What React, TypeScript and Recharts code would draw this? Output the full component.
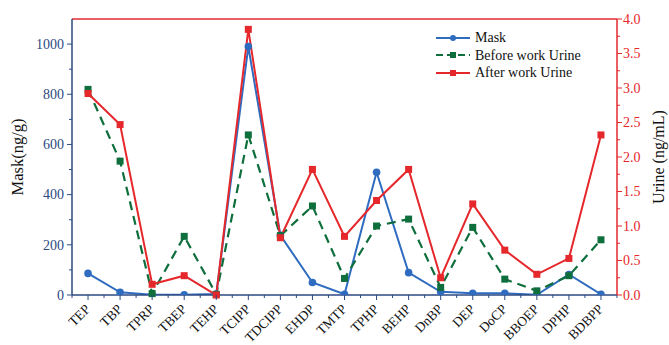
import { LineChart, Line, XAxis, YAxis, ReferenceLine } from "recharts";

const categories = ["TEP", "TBP", "TPRP", "TBEP", "TEHP", "TCIPP", "TDCIPP", "EHDP", "TMTP", "TPHP", "BEHP", "DnBP", "DEP", "DoCP", "BBOEP", "DPHP", "BDBPP"];
const mask = [86, 11, 1, 1, 4, 990, 238, 50, 3, 489, 89, 13, 7, 7, 1, 82, 3];
const beforeUrine = [2.98, 1.94, 0.02, 0.85, 0.01, 2.32, 0.86, 1.29, 0.24, 1.0, 1.1, 0.11, 0.98, 0.23, 0.06, 0.28, 0.8];
const afterUrine = [2.92, 2.47, 0.155, 0.28, 0.0, 3.85, 0.83, 1.82, 0.85, 1.37, 1.82, 0.25, 1.32, 0.65, 0.3, 0.53, 2.32];

const leftTicks = [0, 100, 200, 300, 400, 500, 600, 700, 800, 900, 1000];
const rightTicks = [0, 0.25, 0.5, 0.75, 1, 1.25, 1.5, 1.75, 2, 2.25, 2.5, 2.75, 3, 3.25, 3.5, 3.75, 4];

const data = categories.map((name, i) => ({
  name,
  mask: mask[i],
  before: beforeUrine[i],
  after: afterUrine[i],
}));

const NAVY = "#2c4a82";
const BLUE = "#2f6cc0";
const GREEN = "#0e6e3c";
const RED = "#e5282c";
const FONT = "'Liberation Serif', 'Times New Roman', serif";

const LeftTick = (props: any) => {
  const { x, y, payload } = props;
  const major = payload.value % 200 === 0;
  return (
    <g>
      <line x1={x} x2={x - (major ? 5 : 3)} y1={y} y2={y} stroke={NAVY} strokeWidth={1} />
      {major && (
        <text x={x - 8} y={y} dy={4.8} textAnchor="end" fill={NAVY} fontSize={14} fontFamily={FONT}>
          {payload.value}
        </text>
      )}
    </g>
  );
};

const RightTick = (props: any) => {
  const { x, y, payload } = props;
  const major = Math.abs((payload.value * 2) % 1) < 1e-6;
  return (
    <g>
      <line x1={x} x2={x + (major ? 5 : 3)} y1={y} y2={y} stroke={RED} strokeWidth={1} />
      {major && (
        <text x={x + 6} y={y} dy={4.8} textAnchor="start" fill={RED} fontSize={14} fontFamily={FONT}>
          {payload.value.toFixed(1)}
        </text>
      )}
    </g>
  );
};

const BottomTick = (props: any) => {
  const { x, y, payload } = props;
  const half = 16;
  const lx = x + 3;
  const ly = y + 15;
  return (
    <g>
      <line x1={x} x2={x} y1={y} y2={y + 5} stroke={NAVY} strokeWidth={1} />
      <line x1={x + half} x2={x + half} y1={y} y2={y + 3} stroke={NAVY} strokeWidth={1} />
      {payload.index === 0 && <line x1={x - half} x2={x - half} y1={y} y2={y + 3} stroke={NAVY} strokeWidth={1} />}
      <text x={lx} y={ly} textAnchor="end" fill="#111" fontSize={13.5} fontFamily={FONT} transform={`rotate(-45, ${lx}, ${ly})`}>
        {payload.value}
      </text>
    </g>
  );
};

const Square = (color: string) => (props: any) => {
  const { cx, cy, index } = props;
  if (cx == null || cy == null) return <g key={index} />;
  return <rect key={index} x={cx - 3.5} y={cy - 3.5} width={7} height={7} fill={color} />;
};

const Circle = (props: any) => {
  const { cx, cy, index } = props;
  if (cx == null || cy == null) return <g key={index} />;
  return <circle key={index} cx={cx} cy={cy} r={3.8} fill={BLUE} />;
};

const legendItems = [
  { label: "Mask", color: BLUE, dash: undefined, marker: "circle" },
  { label: "Before work Urine", color: GREEN, dash: "7 4", marker: "square" },
  { label: "After work Urine", color: RED, dash: undefined, marker: "square" },
];

// legend drawn as an overlay so it doesn't eat into the plot margin
const ChartLegend = () => (
  <div
    style={{
      position: "absolute",
      left: 436,
      top: 29,
      fontFamily: FONT,
      fontSize: 14,
      color: "#111",
      lineHeight: "17.5px",
    }}
  >
    {legendItems.map((it) => (
      <div key={it.label} style={{ display: "flex", alignItems: "center" }}>
        <svg width={36} height={10} style={{ marginRight: 3 }}>
          <line x1={0} x2={34} y1={5} y2={5} stroke={it.color} strokeWidth={2} strokeDasharray={it.dash} />
          {it.marker === "circle" ? (
            <circle cx={17} cy={5} r={3} fill={it.color} />
          ) : (
            <rect x={14} y={2} width={6} height={6} fill={it.color} />
          )}
        </svg>
        <span>{it.label}</span>
      </div>
    ))}
  </div>
);

export default function App() {
  return (
    <div style={{ position: "absolute", left: 0, top: 0, width: 669, height: 345, background: "#fff" }}>
      <LineChart width={669} height={345} data={data} margin={{ top: 19, right: 0, left: 0, bottom: 0 }}>
        <XAxis
          dataKey="name"
          scale="band"
          height={50}
          interval={0}
          tickSize={0}
          tickMargin={0}
          tick={<BottomTick />}
          axisLine={{ stroke: NAVY, strokeWidth: 1.5 }}
          tickLine={false}
        />
        <YAxis
          yAxisId="left"
          width={72}
          domain={[0, 1100]}
          ticks={leftTicks}
          interval={0}
          tickSize={0}
          tickMargin={0}
          tick={<LeftTick />}
          tickLine={false}
          axisLine={{ stroke: NAVY, strokeWidth: 1.5 }}
          allowDataOverflow
          label={{
            value: "Mask(ng/g)",
            angle: -90,
            position: "insideLeft",
            offset: 0,
            dx: 17,
            style: { fontFamily: FONT, fontSize: 16.5, fill: "#111", textAnchor: "middle" },
          }}
        />
        <YAxis
          yAxisId="right"
          orientation="right"
          width={52}
          domain={[0, 4]}
          ticks={rightTicks}
          interval={0}
          tickSize={0}
          tickMargin={0}
          tick={<RightTick />}
          tickLine={false}
          axisLine={{ stroke: RED, strokeWidth: 1.5 }}
          label={{
            value: "Urine (ng/mL)",
            angle: -90,
            position: "insideRight",
            offset: 0,
            dx: -11,
            style: { fontFamily: FONT, fontSize: 16, fill: "#111", textAnchor: "middle" },
          }}
        />
        <ReferenceLine yAxisId="right" y={4} stroke={RED} strokeWidth={1.5} />
        <Line
          yAxisId="left"
          dataKey="mask"
          name="Mask"
          stroke={BLUE}
          strokeWidth={2}
          dot={Circle}
          activeDot={false}
          isAnimationActive={false}
        />
        <Line
          yAxisId="right"
          dataKey="before"
          name="Before work Urine"
          stroke={GREEN}
          strokeWidth={2.2}
          strokeDasharray="9 6"
          dot={Square(GREEN)}
          activeDot={false}
          isAnimationActive={false}
        />
        <Line
          yAxisId="right"
          dataKey="after"
          name="After work Urine"
          stroke={RED}
          strokeWidth={2}
          dot={Square(RED)}
          activeDot={false}
          isAnimationActive={false}
        />
      </LineChart>
      <ChartLegend />
    </div>
  );
}
